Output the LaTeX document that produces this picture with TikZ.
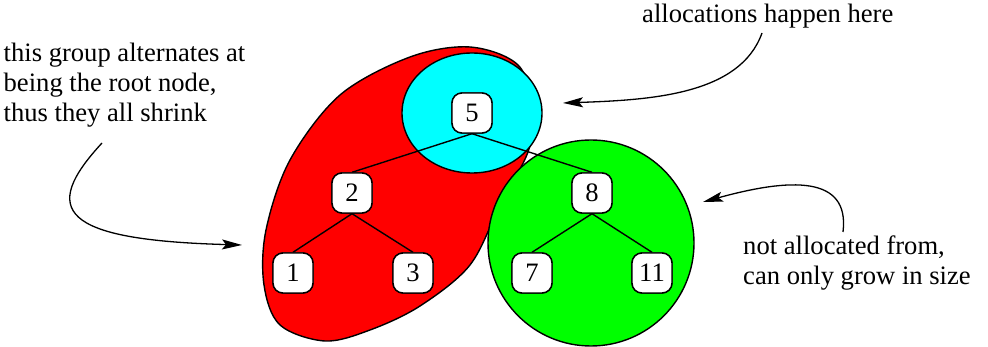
\documentclass[tikz,border=0pt]{standalone}
\usepackage{fontspec}
\setmainfont{Liberation Serif}
\usetikzlibrary{shapes.geometric,arrows.meta}
\definecolor{xred}{RGB}{255,0,0}
\definecolor{xcyan}{RGB}{0,255,255}
\definecolor{xgreen}{RGB}{0,255,0}
\begin{document}
\begin{tikzpicture}[x=1pt,y=-1pt,line width=1.4pt,
  txt/.style={font=\fontsize{26.6pt}{30pt}\selectfont, inner sep=0pt},
  lbl/.style={txt, align=left, anchor=base west},
  keybox/.style={txt, draw, fill=white, rounded corners=10pt, minimum width=40pt, minimum height=40pt},
  group/.style={draw, ellipse, inner sep=0pt},
  pointer/.style={-{Stealth[length=20pt,width=10pt,inset=4pt]}, line width=1.3pt}]
\useasboundingbox (0,0) rectangle (988,347);
% groups
\draw[fill=xred] plot[smooth cycle, tension=0.55] coordinates {
  (325,341) (280,325) (264,285) (266,230) (290,160) (340,95) (410,57)
  (470,47) (518,65) (534,110) (528,152) (500,205) (470,265) (420,306) (370,330)};
\node[group, fill=xcyan, minimum width=140pt, minimum height=120pt] (cyangrp) at (472,113) {};
\node[group, fill=xgreen, minimum width=206pt, minimum height=206pt] (greengrp) at (591,243) {};
% tree nodes
\node[keybox] (n5) at (472,113) {5};
\node[keybox] (n2) at (352,193) {2};
\node[keybox] (n8) at (592,193) {8};
\node[keybox] (n1) at (293,273) {1};
\node[keybox] (n3) at (413,273) {3};
\node[keybox] (n7) at (532,273) {7};
\node[keybox] (n11) at (652,273) {11};
% edges
\draw (n5.south) -- (n2.north);
\draw (n5.south) -- (n8.north);
\draw (n2.south) -- (n1.north);
\draw (n2.south) -- (n3.north);
\draw (n8.south) -- (n7.north);
\draw (n8.south) -- (n11.north);
% redraw nodes above edges
\node[keybox] at (n5) {5};
\node[keybox] at (n2) {2};
\node[keybox] at (n8) {8};
\node[keybox] at (n1) {1};
\node[keybox] at (n3) {3};
\node[keybox] at (n7) {7};
\node[keybox] at (n11) {11};
% labels
\node[lbl] (ltext) at (3,121.7) {this group alternates at\\being the root node,\\thus they all shrink};
\node[lbl] (ttext) at (641.5,22.7) {allocations happen here};
\node[lbl] (rtext) at (742.5,284.3) {not allocated from,\\can only grow in size};
% arrow endpoints
\coordinate (a1s) at (102,143);
\coordinate (a1e) at (242,245);
\coordinate (a2s) at (762,33);
\coordinate (a2e) at (563,103);
\coordinate (a3s) at (843,232);
\coordinate (a3e) at (703,202);
\draw[pointer] (a1s) .. controls (40,210) and (60,240) .. (a1e);
\draw[pointer] (a2s) .. controls (740,95) and (650,100) .. (a2e);
\draw[pointer] (a3s) .. controls (850,175) and (790,178) .. (a3e);
\end{tikzpicture}
\end{document}
